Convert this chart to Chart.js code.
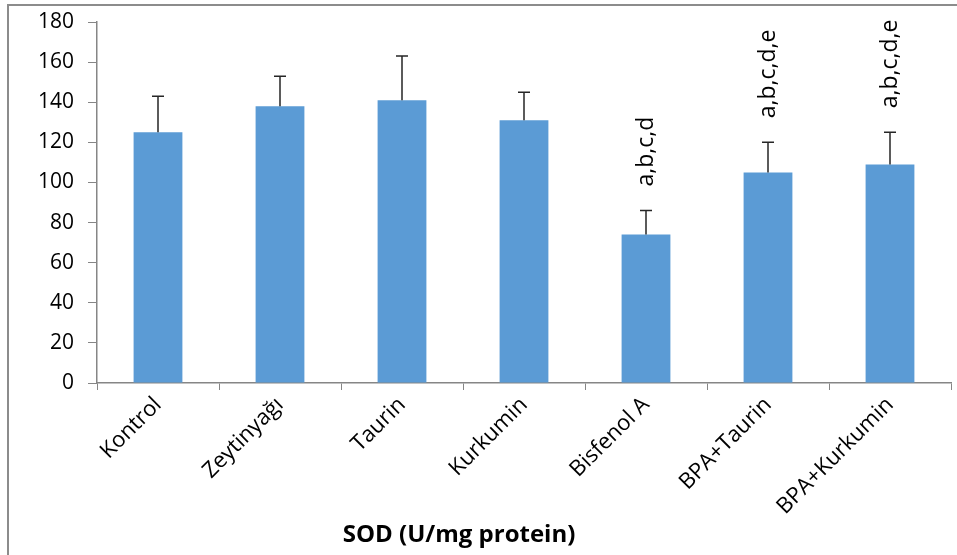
<!DOCTYPE html>
<html>
<head>
<meta charset="utf-8">
<script src="https://cdn.jsdelivr.net/npm/chart.js@4.4.0/dist/chart.umd.min.js"></script>
<style>
  html, body { margin: 0; padding: 0; background: #fff; }
  #wrap { width: 957px; height: 555px; }
</style>
</head>
<body>
<div id="wrap"><canvas id="sodChart"></canvas></div>
<script>
// SOD activity per group
const groups = ['Kontrol', 'Zeytinyağı', 'Taurin', 'Kurkumin', 'Bisfenol A', 'BPA+Taurin', 'BPA+Kurkumin'];
const sodMeans = [125, 138, 141, 131, 74, 105, 109];
const sodErrors = [18, 15, 22, 14, 12, 15, 16];
const sigLabels = ['', '', '', '', 'a,b,c,d', 'a,b,c,d,e', 'a,b,c,d,e'];
const yTicks = [0, 20, 40, 60, 80, 100, 120, 140, 160, 180];

const axisGray = '#868686';
const fontFam = "'Open Sans', sans-serif";

// outer frame + bottom title
const framePlugin = {
  id: 'frame',
  afterDraw(chart) {
    const ctx = chart.ctx;
    ctx.save();
    ctx.strokeStyle = '#8c8c8c';
    ctx.lineWidth = 2;
    ctx.strokeRect(8, 5, 1000, 1000);
    ctx.fillStyle = '#000';
    ctx.font = "bold 24px " + fontFam;
    ctx.textAlign = 'center';
    ctx.textBaseline = 'alphabetic';
    ctx.fillText('SOD (U/mg protein)', 459, 542);
    ctx.restore();
  }
};

// upper error bars and significance letters
const errorPlugin = {
  id: 'errors',
  afterDatasetsDraw(chart) {
    const ctx = chart.ctx;
    const meta = chart.getDatasetMeta(0);
    const y = chart.scales.y;
    ctx.save();
    meta.data.forEach((bar, i) => {
      const top = y.getPixelForValue(sodMeans[i] + sodErrors[i]);
      ctx.strokeStyle = '#262626';
      ctx.lineWidth = 1.5;
      ctx.beginPath();
      ctx.moveTo(bar.x, bar.y);
      ctx.lineTo(bar.x, top);
      ctx.moveTo(bar.x - 6, top);
      ctx.lineTo(bar.x + 6, top);
      ctx.stroke();
      if (sigLabels[i]) {
        ctx.translate(bar.x, top - 24);
        ctx.rotate(-Math.PI / 2);
        ctx.fillStyle = '#000';
        ctx.font = '23px ' + fontFam;
        ctx.textAlign = 'left';
        ctx.textBaseline = 'middle';
        ctx.fillText(sigLabels[i], 0, 0);
        ctx.setTransform(1, 0, 0, 1, 0, 0);
      }
    });
    ctx.restore();
  }
};

const ctx = document.getElementById('sodChart').getContext('2d');
new Chart(ctx, {
  type: 'bar',
  data: {
    labels: groups,
    datasets: [{
      data: sodMeans,
      backgroundColor: '#5b9bd5',
      categoryPercentage: 1,
      barPercentage: 0.4
    }]
  },
  options: {
    responsive: true,
    maintainAspectRatio: false,
    animation: false,
    layout: { padding: { left: 0, top: 22, right: 6, bottom: 0 } },
    plugins: { legend: { display: false }, tooltip: { enabled: false } },
    scales: {
      x: {
        grid: { drawOnChartArea: false, color: axisGray, tickLength: 7, offset: true },
        border: { color: axisGray, width: 1.5 },
        ticks: { color: '#000', font: { family: fontFam, size: 22 }, minRotation: 45, maxRotation: 45, padding: 2 },
        afterFit(scale) { scale.height = 172; scale.paddingTop = 0; scale.paddingBottom = 0; }
      },
      y: {
        min: 0,
        max: 180,
        afterBuildTicks(scale) { scale.ticks = yTicks.map(v => ({ value: v })); },
        grid: { drawOnChartArea: false, color: axisGray, tickLength: 9 },
        border: { color: axisGray, width: 1.5 },
        ticks: { color: '#000', font: { family: fontFam, size: 21 }, padding: 14 },
        afterFit(scale) { scale.width = 97; scale.paddingTop = 0; scale.paddingBottom = 0; }
      }
    }
  },
  plugins: [framePlugin, errorPlugin]
});
</script>
</body>
</html>
